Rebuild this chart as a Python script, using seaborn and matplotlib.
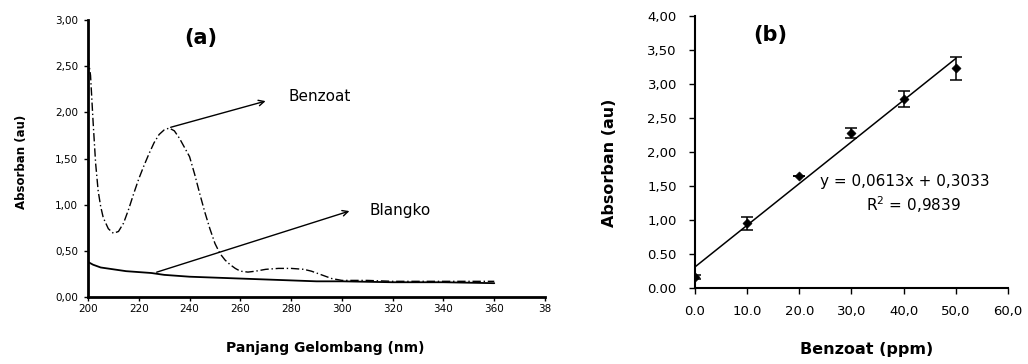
import matplotlib
matplotlib.use("Agg")
import matplotlib.pyplot as plt
import pandas as pd
import seaborn as sns

sns.set_style("ticks")
plt.rcParams['font.family'] = ['DejaVu Sans']
plt.rcParams.update({'text.color': 'black', 'axes.labelcolor': 'black',
                     'xtick.color': 'black', 'ytick.color': 'black'})

# (a) spectrum
panjang_gelombang = [200, 201, 202, 203, 204, 205, 206, 208, 210, 212, 214, 216, 218, 220,
                     222, 224, 226, 228, 230, 232, 234, 236, 238, 240, 242, 244, 246, 248,
                     250, 252, 254, 256, 258, 260, 263, 266, 270, 275, 280, 285, 288, 292,
                     296, 300, 310, 320, 340, 360]
benzoat_abs = [2.60, 2.40, 1.90, 1.45, 1.15, 0.98, 0.86, 0.74, 0.69, 0.71, 0.80, 0.95, 1.12, 1.28,
               1.42, 1.55, 1.67, 1.76, 1.81, 1.83, 1.80, 1.72, 1.62, 1.52, 1.33, 1.12, 0.92, 0.74,
               0.58, 0.47, 0.40, 0.35, 0.31, 0.28, 0.27, 0.28, 0.30, 0.31, 0.31, 0.30, 0.28, 0.24,
               0.20, 0.18, 0.18, 0.17, 0.17, 0.17]
blangko_wl = [200, 202, 205, 210, 215, 220, 225, 230, 240, 250, 260, 270, 280, 290, 300, 320, 340, 360]
blangko_abs = [0.38, 0.35, 0.32, 0.30, 0.28, 0.27, 0.26, 0.24, 0.22, 0.21, 0.20, 0.19, 0.18, 0.17,
               0.17, 0.16, 0.16, 0.15]

# (b) calibration
konsentrasi = [0, 10, 20, 30, 40, 50]
absorban = [0.16, 0.95, 1.65, 2.28, 2.78, 3.23]
sd = [0.03, 0.10, 0.0, 0.07, 0.12, 0.17]

left_xticks = [200, 220, 240, 260, 280, 300, 320, 340, 360, 380]
left_xlabels = ["200", "220", "240", "260", "280", "300", "320", "340", "360", "38"]
left_yticks = [0, 0.5, 1.0, 1.5, 2.0, 2.5, 3.0]
left_ylabels = ["0,00", "0,50", "1,00", "1,50", "2,00", "2,50", "3,00"]
right_xticks = [0, 10, 20, 30, 40, 50, 60]
right_xlabels = ["0.0", "10.0", "20.0", "30,0", "40,0", "50,0", "60,0"]
right_yticks = [0, 0.5, 1.0, 1.5, 2.0, 2.5, 3.0, 3.5, 4.0]
right_ylabels = ["0.00", "0.50", "1,00", "1,50", "2,00", "2,50", "3,00", "3,50", "4,00"]

fig = plt.figure(figsize=(10.28, 3.64), dpi=100)
ax1 = fig.add_axes([0.0856, 0.184, 0.4446, 0.761])
ax2 = fig.add_axes([0.676, 0.209, 0.3045, 0.747])

# ---- panel (a)
df_b = pd.DataFrame({'wl': panjang_gelombang, 'abs': benzoat_abs})
df_k = pd.DataFrame({'wl': blangko_wl, 'abs': blangko_abs})
sns.lineplot(data=df_b, x='wl', y='abs', ax=ax1, color='black', lw=1.0,
             linestyle=(0, (6, 2, 1, 2)))
sns.lineplot(data=df_k, x='wl', y='abs', ax=ax1, color='black', lw=1.3)

ax1.annotate("", xy=(271, 2.13), xytext=(231.5, 1.83),
             arrowprops=dict(arrowstyle='->', color='black', lw=1.0))
ax1.annotate("", xy=(304, 0.94), xytext=(226, 0.26),
             arrowprops=dict(arrowstyle='->', color='black', lw=1.0))
ax1.text(279, 2.17, "Benzoat", fontsize=11, va='center', ha='left')
ax1.text(311, 0.94, "Blangko", fontsize=11, va='center', ha='left')
ax1.text(244.5, 2.80, "(a)", fontsize=15, fontweight='bold', ha='center', va='center')

ax1.set_xlim(200, 380)
ax1.set_ylim(0, 3.0)
ax1.set_xticks(left_xticks)
ax1.set_xticklabels(left_xlabels, fontsize=7.5)
ax1.set_yticks(left_yticks)
ax1.set_yticklabels(left_ylabels, fontsize=7.5)
ax1.tick_params(axis='x', length=3, width=1, pad=2)
ax1.tick_params(axis='y', length=3, width=1, pad=4)
ax1.set_xlabel("Panjang Gelombang (nm)", fontsize=10, fontweight='bold')
ax1.set_ylabel("Absorban (au)", fontsize=8.5, fontweight='bold')
ax1.xaxis.set_label_coords(0.52, -0.16)
ax1.yaxis.set_label_coords(-0.131, 0.487)
for s in ['top', 'right']:
    ax1.spines[s].set_visible(False)
for s in ['left', 'bottom']:
    ax1.spines[s].set_linewidth(2)
    ax1.spines[s].set_color('black')

# ---- panel (b)
df_c = pd.DataFrame({'x': konsentrasi, 'y': absorban})
sns.regplot(data=df_c, x='x', y='y', ax=ax2, ci=None, truncate=True, scatter=False,
            line_kws=dict(color='black', lw=1.1))
ax2.errorbar(konsentrasi, absorban, yerr=sd, fmt='none', ecolor='black',
             elinewidth=1.1, capsize=4, capthick=1.1)
sns.scatterplot(data=df_c, x='x', y='y', ax=ax2, marker='D', s=22, color='black',
                edgecolor='black', zorder=5)

ax2.text(24.0, 1.56, "y = 0,0613x + 0,3033", fontsize=11, ha='left', va='center')
ax2.text(41.8, 1.22, "R$^2$ = 0,9839", fontsize=11, ha='center', va='center')
ax2.text(14.4, 3.72, "(b)", fontsize=15, fontweight='bold', ha='center', va='center')

ax2.set_xlim(0, 60)
ax2.set_ylim(0, 4.0)
ax2.set_xticks(right_xticks)
ax2.set_xticklabels(right_xlabels, fontsize=9.5)
ax2.set_yticks(right_yticks)
ax2.set_yticklabels(right_ylabels, fontsize=9.5)
ax2.tick_params(axis='x', length=4, width=1, pad=8)
ax2.tick_params(axis='y', length=4, width=1, pad=9)
ax2.set_xlabel("Benzoat (ppm)", fontsize=11.5, fontweight='bold')
ax2.set_ylabel("Absorban (au)", fontsize=11.5, fontweight='bold')
ax2.xaxis.set_label_coords(0.55, -0.2)
ax2.yaxis.set_label_coords(-0.249, 0.46)
for s in ['top', 'right']:
    ax2.spines[s].set_visible(False)
for s in ['left', 'bottom']:
    ax2.spines[s].set_linewidth(1.5)
    ax2.spines[s].set_color('black')

fig.savefig("out.png", dpi=100)
